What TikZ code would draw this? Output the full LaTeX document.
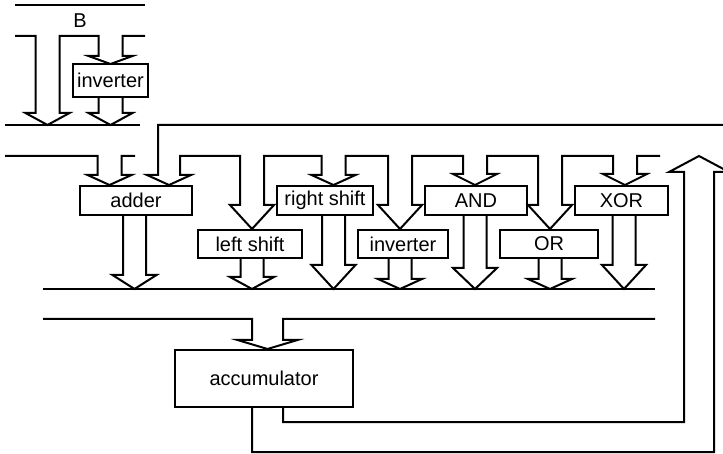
\documentclass[tikz,border=0pt]{standalone}
\usepackage{fontspec}
\setmainfont{Liberation Sans}

\begin{document}
\begin{tikzpicture}[
  x=1pt, y=-1pt, line width=2pt,
  unitbox/.style={draw, rectangle, inner sep=0pt, font=\fontsize{20}{22}\selectfont,
                  minimum height=29pt},
  lowbox/.style={unitbox, minimum height=28pt},
  buslabel/.style={font=\fontsize{20}{22}\selectfont, inner sep=0pt}
]
\useasboundingbox (0,0) rectangle (723,454);

% function units
\node[unitbox, minimum width=75pt, minimum height=33pt] (invB) at (110.5,80.5) {inverter};
\node[unitbox, minimum width=112pt] (adder)  at (136,200.5)   {adder};
\node[unitbox, minimum width=96pt]  (rshift) at (325,200.5)   {right shift};
\node[unitbox, minimum width=102pt] (and)    at (476,200.5)   {AND};
\node[unitbox, minimum width=93pt]  (xor)    at (621.5,200.5) {XOR};
\node[lowbox, minimum width=104pt]  (lshift) at (250,244)     {left shift};
\node[lowbox, minimum width=90pt]   (inv)    at (403,244)     {inverter};
\node[lowbox, minimum width=98pt]   (or)     at (549,244)     {OR};
\node[unitbox, minimum width=178pt, minimum height=57pt] (acc) at (264,378.5) {accumulator};

% bus B and its two arrows
\draw (15,5) -- (145,5);
\node[buslabel] (busB) at (80,21) {B};
\draw (15,36) \foreach \cx/\yf/\yt in {47.5/113/125, 110.5/56/64}
  { -- (\cx-12,36) -- (\cx-12,\yf) -- (\cx-22,\yf) -- (\cx,\yt) -- (\cx+22,\yf) -- (\cx+12,\yf) -- (\cx+12,36) }
  -- (145,36);
\draw (98.5,0 |- invB.south) -- (98.5,113) -- (88.5,113) -- (110.5,125)
  -- (132.5,113) -- (122.5,113) -- (122.5,0 |- invB.south);

% operand bus into the adder
\draw (5,125) -- (140,125);
\draw (5,156) -- (97.5,156) -- (97.5,175) -- (87.5,175) -- (109.5,0 |- adder.north)
  -- (131.5,175) -- (121.5,175) -- (121.5,156) -- (135,156);

% accumulator bus feeding every unit
\draw (723,125) -- (158,125) -- (158,175) -- (147,175) -- (169,0 |- adder.north)
  -- (191,175) -- (180,175) -- (180,156)
  \foreach \cx/\yf/\n in {252/205/lshift, 333.5/175/rshift, 400/205/inv, 475/174/and, 550/205/or, 625/174/xor}
  { -- (\cx-12,156) -- (\cx-12,\yf) -- (\cx-22,\yf) -- (\cx,0 |- \n.north) -- (\cx+22,\yf) -- (\cx+12,\yf) -- (\cx+12,156) }
  -- (660,156);

% results onto the result bus
\foreach \cx/\yf/\n in {134.5/275/adder, 252/277/lshift, 333.5/265/rshift, 400/279/inv, 475/268/and, 550/279/or, 624/265/xor}
  \draw (\cx-11.5,0 |- \n.south) -- (\cx-11.5,\yf) -- (\cx-22,\yf) -- (\cx,289)
    -- (\cx+22,\yf) -- (\cx+11.5,\yf) -- (\cx+11.5,0 |- \n.south);

% result bus into the accumulator
\draw (43,289) -- (655,289);
\draw (43,319) -- (252,319) -- (252,340) -- (237.5,340) -- (267.5,0 |- acc.north)
  -- (297.5,340) -- (283,340) -- (283,319) -- (655,319);

% feedback from the accumulator
\draw (252,0 |- acc.south) -- (252,452) -- (714,452) -- (714,172) -- (729,172) -- (699,156)
  -- (669,172) -- (684,172) -- (684,422) -- (283,422) -- (283,0 |- acc.south);
\end{tikzpicture}
\end{document}
